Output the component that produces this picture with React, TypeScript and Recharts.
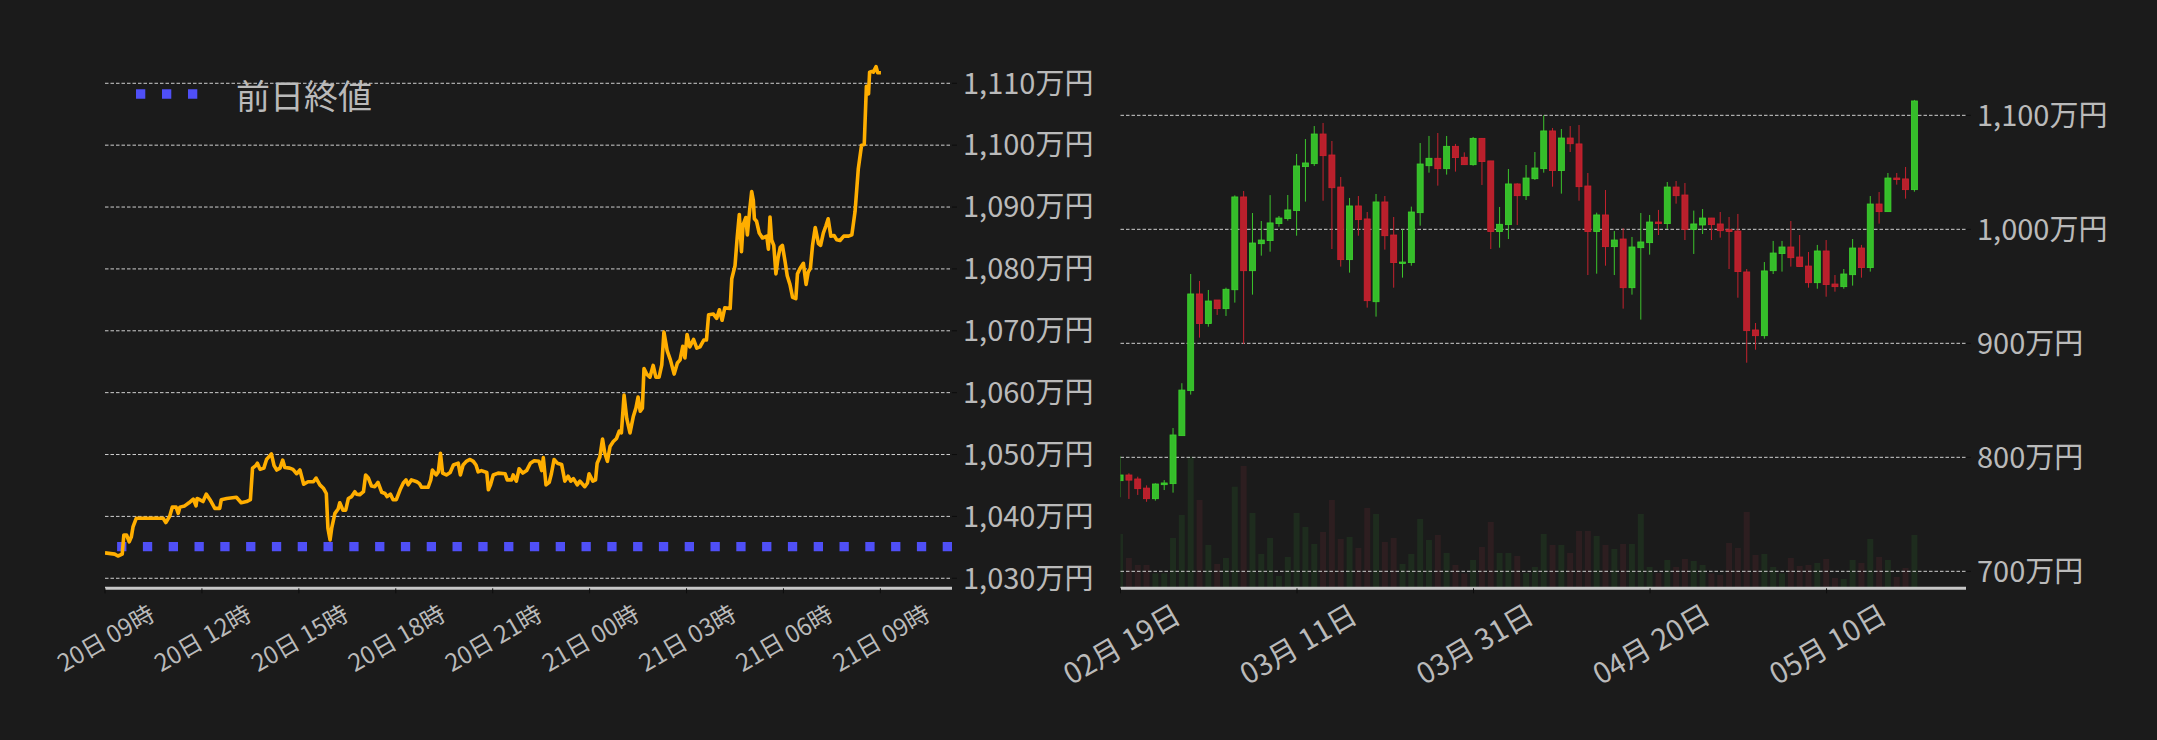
import { LineChart, Line, XAxis, YAxis, CartesianGrid, ReferenceLine, ComposedChart, Bar, Cell } from "recharts";

const FONT = '"Noto Sans CJK JP", "Noto Sans", sans-serif';
const BG = "#1b1b1b";
const TEXT = "#bababa";
const GRID = "#cfcfcf";

// intraday: minutes since 20日 09:00, price in 万円
const minutes = [
  0, 18, 24, 32, 35, 40, 45, 49, 52, 58, 83, 108, 113, 120, 125, 132, 136, 139, 148, 156,
  164, 169, 171, 176, 182, 188, 195, 204, 213, 216, 226, 244, 253, 263, 270, 274, 280, 283, 288, 295,
  300, 305, 309, 314, 319, 325, 330, 334, 343, 349, 356, 362, 369, 377, 387, 392, 399, 406, 411, 414,
  418, 421, 427, 433, 436, 442, 447, 452, 458, 464, 467, 473, 480, 484, 489, 495, 501, 507, 514, 520,
  524, 530, 535, 541, 548, 554, 559, 563, 569, 579, 584, 588, 600, 605, 608, 615, 619, 623, 627, 634,
  641, 647, 656, 660, 665, 671, 678, 684, 689, 693, 699, 709, 712, 716, 721, 730,
  743, 747, 755, 758, 764, 769, 776, 783, 790, 797, 806, 811, 814, 819, 825, 829, 834, 840, 848, 854,
  860, 865, 870, 877, 882, 891, 896, 899, 906, 911, 914, 919, 924, 928, 933, 938, 944, 950, 955, 959,
  964, 969, 975, 981, 986, 990, 994, 998, 1001, 1006, 1012, 1018, 1023, 1029, 1034, 1038, 1044, 1050, 1057, 1063,
  1068, 1073, 1077, 1081, 1086, 1093, 1099, 1105, 1112, 1117, 1121, 1130, 1136, 1141, 1146, 1151, 1161, 1164, 1170, 1174,
  1178, 1182, 1185, 1190, 1193, 1197, 1201, 1204, 1206, 1210, 1215, 1221, 1229, 1232, 1235, 1238, 1242, 1246, 1250, 1254,
  1258, 1263, 1267, 1272, 1277, 1283, 1286, 1291, 1297, 1302, 1306, 1310, 1314, 1319, 1325, 1329, 1334, 1339, 1343, 1348,
  1354, 1359, 1365, 1372, 1381, 1387, 1393, 1399, 1405, 1410, 1414, 1418, 1420, 1424, 1427, 1432, 1435, 1441,
];
const prices = [
  1034.1, 1033.9, 1033.6, 1033.9, 1037.0, 1037.0, 1035.9, 1036.7, 1038.3, 1039.7, 1039.7, 1039.7, 1039.0, 1040.0, 1041.5, 1041.5, 1040.5, 1041.5, 1041.7, 1042.2,
  1042.8, 1041.7, 1042.9, 1042.7, 1042.4, 1043.6, 1042.7, 1041.3, 1041.3, 1042.7, 1042.9, 1043.1, 1042.2, 1042.4, 1042.7, 1047.8, 1048.2, 1048.6, 1047.6, 1047.8,
  1049.2, 1049.7, 1050.1, 1048.2, 1047.5, 1047.8, 1049.1, 1047.9, 1047.8, 1047.6, 1046.9, 1047.5, 1045.2, 1045.6, 1045.6, 1046.2, 1045.1, 1044.5, 1043.7, 1038.1,
  1036.2, 1038.1, 1040.5, 1041.2, 1042.2, 1041.0, 1041.0, 1042.9, 1043.2, 1044.0, 1043.6, 1043.5, 1044.0, 1046.7, 1046.2, 1044.9, 1044.8, 1045.5, 1043.9, 1043.7,
  1043.2, 1043.6, 1042.7, 1042.7, 1044.3, 1045.4, 1045.9, 1045.1, 1045.9, 1045.6, 1045.3, 1044.7, 1044.7, 1045.9, 1047.5, 1046.7, 1047.2, 1050.2, 1047.0, 1046.7,
  1047.1, 1048.3, 1048.6, 1046.7, 1048.3, 1048.9, 1049.2, 1048.9, 1048.3, 1047.2, 1047.4, 1047.1, 1044.3, 1045.1, 1046.7, 1047.0,
  1046.9, 1045.9, 1045.9, 1046.7, 1045.7, 1047.7, 1047.0, 1047.4, 1048.6, 1049.0, 1048.9, 1047.4, 1049.5, 1045.1, 1045.5, 1046.9, 1049.2, 1048.6, 1048.4, 1045.7,
  1046.5, 1045.7, 1046.1, 1045.1, 1045.7, 1044.8, 1045.4, 1046.9, 1045.7, 1045.9, 1048.6, 1049.6, 1052.5, 1050.3, 1048.9, 1051.3, 1052.1, 1052.6, 1053.8, 1053.5,
  1059.6, 1055.8, 1053.5, 1056.1, 1057.5, 1059.3, 1057.0, 1057.5, 1063.9, 1063.0, 1062.5, 1064.4, 1062.5, 1062.5, 1064.5, 1069.8, 1066.8, 1065.3, 1063.0, 1064.8,
  1065.3, 1067.5, 1065.6, 1069.4, 1067.4, 1068.6, 1067.2, 1067.4, 1068.5, 1068.5, 1072.6, 1072.7, 1072.0, 1073.4, 1071.7, 1073.7, 1073.6, 1078.4, 1080.5, 1085.0,
  1088.8, 1082.8, 1087.1, 1088.3, 1085.5, 1089.3, 1092.5, 1091.1, 1088.1, 1087.7, 1085.8, 1085.0, 1085.3, 1083.2, 1088.4, 1084.7, 1083.8, 1079.2, 1081.8, 1083.5,
  1083.8, 1081.2, 1078.9, 1077.5, 1075.4, 1075.2, 1079.2, 1080.1, 1080.9, 1077.5, 1079.5, 1080.1, 1083.8, 1086.7, 1084.1, 1083.8, 1085.8, 1087.0, 1088.1, 1085.3,
  1085.4, 1084.7, 1084.6, 1085.3, 1085.3, 1085.5, 1089.3, 1096.2, 1100.0, 1100.1, 1109.5, 1108.3, 1111.8, 1111.9, 1111.8, 1112.7, 1111.7, 1111.7,
];
const prevClose = 1035.1;
const hourTicks = [0, 180, 360, 540, 720, 900, 1080, 1260, 1440];
const hourLabels = ["20日 09時", "20日 12時", "20日 15時", "20日 18時", "20日 21時", "21日 00時", "21日 03時", "21日 06時", "21日 09時"];
const priceTicks = [1030, 1040, 1050, 1060, 1070, 1080, 1090, 1100, 1110];

// daily candles (万円), index 0 = 02月19日
const opens = [
  779.5, 784.5, 781, 773, 763.7, 776, 776.9, 819, 858.5, 943.3, 917.3, 938, 930.4, 947, 1028.4, 963.7, 987.4, 990.1, 1005, 1009.4,
  1016.4, 1055, 1057.6, 1083.6, 1065.2, 1037.1, 973.4, 1020.5, 1009.1, 936.5, 1024, 995, 970.8, 970.8, 1014.6, 1055.8, 1062.3, 1053.2, 1072.8, 1063.2,
  1056.7, 1079.8, 1060, 998, 1004.1, 1039.8, 1029.5, 1044.4, 1053.2, 1086.3, 1051.5, 1080.1, 1074.9, 1038, 998, 1012.6, 984.8, 991.5, 948.8, 983.9,
  988.3, 1006.4, 1005, 1037.1, 1030.1, 1000, 1003.8, 1009.9, 1004.7, 999.7, 998.5, 962.6, 911.7, 906.7, 963.7, 978.7, 984.5, 975.7, 967.8, 953.2,
  981, 952, 949.7, 960.2, 983.6, 966.4, 1022.2, 1015.5, 1045, 1044.2, 1034.8,
];
const highs = [
  801, 786, 783, 775.4, 777.2, 780, 825.7, 865, 960.8, 954.7, 946.8, 938, 948.8, 1029.8, 1033.6, 1014.3, 1007.3, 1030, 1011.7, 1030.1,
  1066.1, 1079.2, 1090.6, 1093.3, 1077.5, 1045.9, 1027.5, 1029.2, 1015.2, 1031, 1029.2, 1010.8, 1000, 1019.9, 1075.7, 1081.9, 1084.5, 1081.9, 1074.9, 1067.5,
  1081, 1080, 1060, 1019.6, 1052.9, 1040.4, 1056.4, 1067.8, 1100, 1088.9, 1088, 1090.6, 1091.5, 1049.4, 1014.6, 1034.5, 998.5, 1000.9, 993.3, 1014.3,
  1012.6, 1017, 1041.5, 1042.4, 1040.6, 1016.4, 1017.8, 1010, 1015.2, 1010.8, 1013.5, 965.2, 917.8, 971.3, 989.8, 989.8, 1007.3, 995, 980.1, 986.3,
  990.6, 959.9, 965.2, 991.5, 986.3, 1029.2, 1032.7, 1049.4, 1049.4, 1054.7, 1113.5,
];
const lows = [
  765, 763.5, 767, 761, 762, 771.3, 769, 819, 855, 905, 914.6, 924.9, 924, 935.7, 899.4, 942.7, 976.9, 980.4, 1002.3, 1007.6,
  994.4, 1024.3, 1055.6, 1025.1, 982.7, 967.3, 962, 994.4, 931.3, 923.4, 982.2, 948.8, 957.6, 968.1, 1003.2, 1049.7, 1038.3, 1048, 1050.6, 1056.7,
  1055.8, 1038.9, 982.7, 983.9, 991.5, 1003.8, 1025.7, 1043.3, 1049.7, 1037.4, 1031.3, 1067.8, 1025.1, 959.9, 961.1, 968.1, 959.9, 930.4, 942.7, 920.8,
  977.8, 995, 1000.3, 1022.5, 990.6, 978.4, 995.9, 990.6, 992.7, 965.2, 940, 883, 894.4, 904.1, 960.8, 962.9, 967.3, 967.3, 948.8, 947.9,
  940.9, 945.3, 947.9, 950.6, 957.6, 962.9, 1005, 1015.5, 1039.2, 1026.9, 1033,
];
const closes = [
  784.5, 780, 772.5, 763.7, 776.6, 777.5, 819.6, 859, 943.3, 917.3, 937.1, 930.4, 947.4, 1028.4, 963.7, 988, 990.6, 1005.6, 1009.9, 1017,
  1055.6, 1058.2, 1083.6, 1064.6, 1036.5, 973.4, 1020.5, 1008.5, 937.4, 1024, 994.4, 970.8, 971.3, 1015.2, 1057.3, 1062.3, 1053.2, 1072.8, 1062.9, 1056.7,
  1079.8, 1059.4, 998, 1004.4, 1039.8, 1029.5, 1045, 1053.8, 1086.3, 1051.5, 1080.1, 1075.1, 1037.4, 998, 1012.6, 984.8, 990.6, 948.8, 984.5, 988.9,
  1006.4, 1005, 1037.1, 1029.5, 1000, 1004.7, 1009.9, 1004.1, 998.8, 998, 962.9, 911.1, 906.7, 963.5, 979.2, 984.5, 975.1, 967.3, 953.2, 981,
  951.5, 949.7, 960.8, 983.6, 966.4, 1022.2, 1015.5, 1045, 1043.6, 1034.8, 1112.6,
];
const volumes = [
  163, 91, 70, 70, 45, 45, 151, 220, 395, 265, 130, 73, 91, 305, 367, 226, 103, 151, 37, 94,
  226, 184, 133, 169, 265, 148, 154, 121, 241, 223, 139, 151, 73, 103, 208, 145, 160, 106, 70, 45,
  85, 124, 199, 106, 106, 97, 46, 64, 163, 130, 130, 106, 172, 172, 157, 130, 118, 133, 133, 223,
  64, 46, 85, 64, 88, 82, 70, 45, 40, 136, 121, 229, 100, 103, 64, 45, 91, 67, 70, 76,
  88, 31, 28, 85, 76, 148, 94, 85, 34, 61, 160,
];
const dayTicks = [0, 20, 40, 60, 80];
const dayLabels = ["02月 19日", "03月 11日", "03月 31日", "04月 20日", "05月 10日"];
const dailyTicks = [700, 800, 900, 1000, 1100];

const intraday = minutes.map((t, i) => ({ t, v: prices[i] }));
const daily = opens.map((o, i) => ({ i, o, h: highs[i], l: lows[i], c: closes[i], vol: volumes[i] }));

const yen = (v: number) => `${v.toLocaleString("en-US")}万円`;

const makeTick = (ticks: number[], labels: string[], size: number, drop: number) => (props: any) => {
  const { x, y, payload } = props;
  const cy = y + drop;
  const label = labels[ticks.indexOf(payload.value)] ?? "";
  return (
    <text x={x} y={cy} transform={`rotate(-30 ${x} ${cy})`} textAnchor="middle" dominantBaseline="central" fill={TEXT} fontSize={size} fontFamily={FONT}>
      {label}
    </text>
  );
};

function Candle(props: any) {
  const { x, y, width, height, payload } = props;
  const { o, h, l, c } = payload;
  const top = Math.min(y, y + height);
  const span = Math.abs(height);
  const py = (v: number) => (h === l ? top : top + ((h - v) / (h - l)) * span);
  const up = c >= o;
  const cx = x + width / 2;
  const bTop = py(Math.max(o, c));
  const bH = Math.max(1.5, py(Math.min(o, c)) - bTop);
  const wick = up ? "#3cc42c" : "#c4222e";
  return (
    <g>
      <line x1={cx} x2={cx} y1={top} y2={top + span} stroke={wick} strokeWidth={1} />
      <rect x={cx - 3} y={bTop} width={6} height={bH} fill={up ? "#35bd2a" : "#b9202c"} stroke={up ? "#3fd42f" : "#d0222f"} strokeWidth={0.8} />
    </g>
  );
}

export default function App() {
  return (
    <div style={{ position: "fixed", left: 0, top: 0, width: 2157, height: 740, background: BG, overflow: "hidden" }}>
      {/* intraday line */}
      <div style={{ position: "absolute", left: 0, top: 0 }}>
        <LineChart width={1100} height={740} data={intraday} margin={{ top: 50, left: 105, right: 8, bottom: 51.7 }}>
          <CartesianGrid vertical={false} horizontalValues={priceTicks} stroke={GRID} strokeDasharray="3.5 2" strokeWidth={1} />
          <XAxis
            dataKey="t"
            type="number"
            domain={[0, 1573]}
            ticks={hourTicks}
            allowDataOverflow
            height={100}
            axisLine={{ stroke: "#c8c8c8", strokeWidth: 3 }}
            tickLine={{ stroke: "#0d0d0d" }}
            tickSize={5}
            tickMargin={2}
            tick={makeTick(hourTicks, hourLabels, 24, 41.4)}
            interval={0}
          />
          <YAxis
            orientation="right"
            width={140}
            domain={[1028.38, 1115.38]}
            ticks={priceTicks}
            allowDataOverflow
            axisLine={false}
            tickLine={{ stroke: "#0d0d0d" }}
            tickSize={5}
            tickMargin={6}
            tickFormatter={yen}
            tick={{ fill: TEXT, fontSize: 29, fontFamily: FONT }}
            interval={0}
          />
          <ReferenceLine y={prevClose} stroke="#4f4ff6" strokeWidth={9.3} strokeDasharray="9.3 16.5" />
          <Line dataKey="v" type="linear" stroke="#ffae00" strokeWidth={3.6} dot={false} strokeLinejoin="round" isAnimationActive={false} />
        </LineChart>
      </div>
      {/* legend */}
      <svg style={{ position: "absolute", left: 0, top: 0 }} width={420} height={130}>
        <line x1={136} x2={197.3} y1={94} y2={94} stroke="#4f4ff6" strokeWidth={9.3} strokeDasharray="9.3 16.7" />
        <text x={236} y={94} dominantBaseline="central" fill={TEXT} fontSize={34} fontFamily={FONT}>
          前日終値
        </text>
      </svg>
      {/* daily volume (underneath) */}
      <div style={{ position: "absolute", left: 1000, top: 0 }}>
        <ComposedChart width={1157} height={740} data={daily} margin={{ top: 50, left: 120.5, right: 191, bottom: 151.7 }}>
          <XAxis dataKey="i" type="number" domain={[0, 95.8]} hide allowDataOverflow />
          <YAxis domain={[0, 1615]} hide allowDataOverflow />
          <Bar dataKey="vol" barSize={6} isAnimationActive={false}>
            {daily.map((d, i) => (
              <Cell key={i} fill={d.c >= d.o ? "#1e2c1e" : "#2d1e20"} />
            ))}
          </Bar>
        </ComposedChart>
      </div>
      {/* daily candles */}
      <div style={{ position: "absolute", left: 1000, top: 0 }}>
        <ComposedChart width={1157} height={740} data={daily} margin={{ top: 50, left: 120.5, right: 11, bottom: 51.7 }}>
          <CartesianGrid vertical={false} horizontalValues={dailyTicks} stroke={GRID} strokeDasharray="3.5 2" strokeWidth={1} />
          <XAxis
            dataKey="i"
            type="number"
            domain={[0, 95.8]}
            ticks={dayTicks}
            allowDataOverflow
            height={100}
            axisLine={{ stroke: "#c8c8c8", strokeWidth: 3 }}
            tickLine={{ stroke: "#0d0d0d" }}
            tickSize={5}
            tickMargin={2}
            tick={makeTick(dayTicks, dayLabels, 29, 46.7)}
            interval={0}
          />
          <YAxis
            orientation="right"
            width={180}
            domain={[685.1, 1157.3]}
            ticks={dailyTicks}
            allowDataOverflow
            axisLine={false}
            tickLine={{ stroke: "#0d0d0d" }}
            tickSize={5}
            tickMargin={6}
            tickFormatter={yen}
            tick={{ fill: TEXT, fontSize: 29, fontFamily: FONT }}
            interval={0}
          />
          <Bar dataKey={(d: any) => [d.l, d.h]} barSize={6} shape={Candle} isAnimationActive={false} />
        </ComposedChart>
      </div>
    </div>
  );
}
